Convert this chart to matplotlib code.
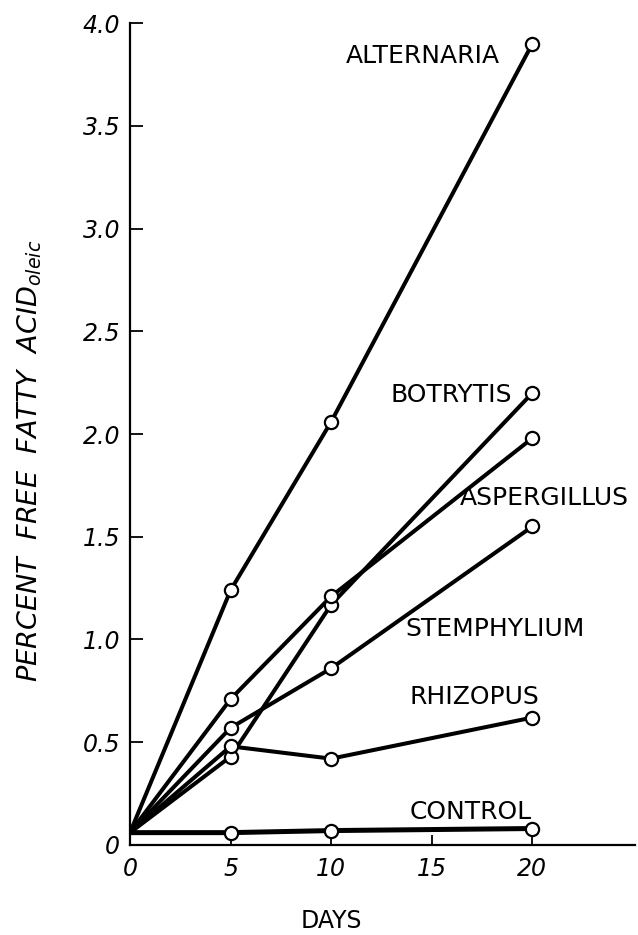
import matplotlib

matplotlib.use("Agg")
import matplotlib.pyplot as plt

days = [0, 5, 10, 20]

alternaria = [0.06, 1.24, 2.06, 3.90]
botrytis = [0.06, 0.43, 1.17, 2.20]
aspergillus = [0.06, 0.71, 1.21, 1.98]
stemphylium = [0.06, 0.57, 0.86, 1.55]
rhizopus = [0.06, 0.48, 0.42, 0.62]
control = [0.06, 0.06, 0.07, 0.08]

series_names = ["ALTERNARIA", "BOTRYTIS", "ASPERGILLUS", "STEMPHYLIUM", "RHIZOPUS", "CONTROL"]
series_values = [alternaria, botrytis, aspergillus, stemphylium, rhizopus, control]

x_ticks = [0, 5, 10, 15, 20]
y_ticks = [0, 0.5, 1.0, 1.5, 2.0, 2.5, 3.0, 3.5, 4.0]
y_tick_labels = ["0", "0.5", "1.0", "1.5", "2.0", "2.5", "3.0", "3.5", "4.0"]

# where the hand lettering sits (data coords, alignment)
label_spots = {
    "ALTERNARIA": (18.4, 3.84, "right"),
    "BOTRYTIS": (19.0, 2.19, "right"),
    "ASPERGILLUS": (16.4, 1.69, "left"),
    "STEMPHYLIUM": (13.7, 1.05, "left"),
    "RHIZOPUS": (13.9, 0.72, "left"),
    "CONTROL": (13.9, 0.16, "left"),
}


def main() -> None:
    plt.rcParams["font.family"] = ["DejaVu Sans"]
    fig = plt.figure(figsize=(6.38, 9.35), dpi=100)
    ax = fig.add_axes([0.2038, 0.0963, 0.7915, 0.879])

    for name, vals in zip(series_names, series_values):
        lw = 3.6 if name == "CONTROL" else 2.9
        ax.plot(days, vals, color="black", lw=lw, solid_capstyle="round", zorder=2)
        ax.plot(days[1:], vals[1:], ls="none", marker="o", ms=9.5, mfc="white",
                mec="black", mew=1.6, zorder=3, clip_on=False)
        x, y, ha = label_spots[name]
        ax.text(x, y, name, ha=ha, va="center", fontsize=18, clip_on=False)

    ax.set_xlim(0, 25.1)
    ax.set_ylim(0, 4.0)
    ax.set_xticks(x_ticks)
    ax.set_xticklabels([str(v) for v in x_ticks], fontsize=17, style="italic")
    ax.set_yticks(y_ticks)
    ax.set_yticklabels(y_tick_labels, fontsize=17, style="italic")
    ax.tick_params(axis="x", direction="in", length=7, width=1.3, pad=9)
    ax.tick_params(axis="y", direction="in", length=9, width=1.3, pad=7)

    for side in ["top", "right"]:
        ax.spines[side].set_visible(False)
    for side in ["left", "bottom"]:
        ax.spines[side].set_linewidth(1.6)

    ax.text(10, -0.37, "DAYS", ha="center", va="center", fontsize=17)
    ax.text(-5.0, 1.87, "PERCENT  FREE  FATTY  ACID$_{oleic}$", rotation=90,
            ha="center", va="center", fontsize=19.5, style="italic")

    fig.savefig("out.png", dpi=100)


if __name__ == "__main__":
    main()
